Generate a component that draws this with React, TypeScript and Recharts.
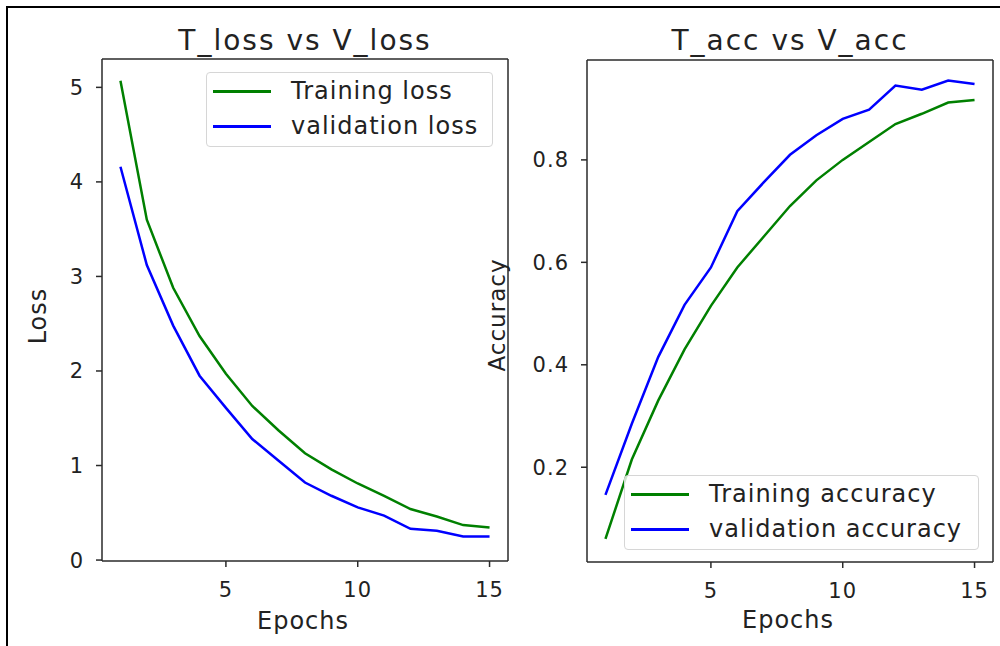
import React from 'react';
import { LineChart, Line, XAxis, YAxis, Legend } from 'recharts';

const epochs = [1, 2, 3, 4, 5, 6, 7, 8, 9, 10, 11, 12, 13, 14, 15];
const trainLoss = [5.07, 3.6, 2.88, 2.37, 1.97, 1.63, 1.37, 1.13, 0.96, 0.81, 0.68, 0.54, 0.46, 0.37, 0.345];
const valLoss = [4.16, 3.12, 2.48, 1.95, 1.61, 1.28, 1.05, 0.82, 0.68, 0.557, 0.47, 0.33, 0.31, 0.25, 0.25];
const trainAcc = [0.06, 0.215, 0.33, 0.43, 0.515, 0.59, 0.65, 0.71, 0.76, 0.8, 0.835, 0.87, 0.89, 0.912, 0.917];
const valAcc = [0.146, 0.285, 0.415, 0.517, 0.59, 0.7, 0.756, 0.81, 0.848, 0.88, 0.898, 0.945, 0.937, 0.955, 0.948];

const epochTicks = [5, 10, 15];
const lossTicks = [0, 1, 2, 3, 4, 5];
const accTicks = [0.2, 0.4, 0.6, 0.8];

const FONT = '"DejaVu Sans", sans-serif';
const INK = '#222';
const SPINE = '#2a2a2a';

const lossData = epochs.map((e, i) => ({ epoch: e, train: trainLoss[i], val: valLoss[i] }));
const accData = epochs.map((e, i) => ({ epoch: e, train: trainAcc[i], val: valAcc[i] }));

const tickStyle = { fill: INK, fontSize: 21, fontFamily: FONT, letterSpacing: 1 };

interface LegendBoxProps {
  labels: string[];
  width: number;
}

function LegendBox({ labels, width }: LegendBoxProps) {
  const colors = ['#008000', '#0000ff'];
  return (
    <div
      style={{
        position: 'relative',
        width,
        height: 75,
        border: '1.5px solid #d6d6d6',
        borderRadius: 4,
        background: 'rgba(255,255,255,0.8)',
        boxSizing: 'border-box',
        fontFamily: FONT,
      }}
    >
      {labels.map((lab, i) => (
        <div key={lab}>
          <div
            style={{
              position: 'absolute',
              left: 6,
              top: 17 + i * 35,
              width: 58,
              height: 3,
              background: colors[i],
            }}
          />
          <div
            style={{
              position: 'absolute',
              left: 84,
              top: 3 + i * 35,
              fontSize: 24,
              letterSpacing: 1,
              color: INK,
              whiteSpace: 'nowrap',
              lineHeight: '30px',
            }}
          >
            {lab}
          </div>
        </div>
      ))}
    </div>
  );
}

function Title({ text, x, y }: { text: string; x: number; y: number }) {
  return (
    <div
      style={{
        position: 'absolute',
        left: x - 200,
        width: 400,
        top: y,
        textAlign: 'center',
        fontFamily: FONT,
        fontSize: 28,
        letterSpacing: 2,
        color: INK,
        lineHeight: '30px',
      }}
    >
      {text}
    </div>
  );
}

function AxisLabel({ text, x, y, rotate, size }: { text: string; x: number; y: number; rotate?: boolean; size: number }) {
  return (
    <div
      style={{
        position: 'absolute',
        left: x - 100,
        top: y - 15,
        width: 200,
        height: 30,
        lineHeight: '30px',
        textAlign: 'center',
        fontFamily: FONT,
        fontSize: size,
        letterSpacing: 1,
        color: INK,
        transform: rotate ? 'rotate(-90deg)' : undefined,
      }}
    >
      {text}
    </div>
  );
}

export default function App() {
  return (
    <div
      style={{
        position: 'absolute',
        left: 0,
        top: 0,
        width: 1000,
        height: 646,
        background: '#fff',
        overflow: 'hidden',
      }}
    >
      {/* outer frame of the screenshot */}
      <div
        style={{
          position: 'absolute',
          left: 6,
          top: 6,
          width: 1010,
          height: 660,
          borderTop: '2.5px solid #000',
          borderLeft: '2.5px solid #000',
        }}
      />

      <div style={{ position: 'absolute', left: 0, top: 0 }}>
        <LineChart width={520} height={646} data={lossData} margin={{ top: 58, right: 11, left: 42, bottom: 55 }}>
          <XAxis
            dataKey="epoch"
            type="number"
            domain={[0.3, 15.7]}
            ticks={epochTicks}
            allowDataOverflow
            height={30}
            tickSize={6}
            tickMargin={15}
            tick={tickStyle}
            stroke={SPINE}
            strokeWidth={1.5}
          />
          <XAxis xAxisId="top" dataKey="epoch" type="number" orientation="top" domain={[0.3, 15.7]} ticks={epochTicks} height={1} tick={false} tickLine={false} stroke={SPINE} strokeWidth={1.5} />
          <YAxis
            type="number"
            domain={[-0.01, 5.3]}
            ticks={lossTicks}
            allowDataOverflow
            width={60}
            tickSize={6}
            tickMargin={12}
            tick={tickStyle}
            stroke={SPINE}
            strokeWidth={1.5}
          />
          <YAxis yAxisId="right" orientation="right" type="number" domain={[-0.01, 5.3]} ticks={lossTicks} width={1} tick={false} tickLine={false} stroke={SPINE} strokeWidth={1.5} />
          <Line dataKey="train" stroke="#008000" strokeWidth={2.5} dot={false} isAnimationActive={false} />
          <Line dataKey="val" stroke="#0000ff" strokeWidth={2.5} dot={false} isAnimationActive={false} />
          <Line xAxisId="top" yAxisId="right" dataKey="val" stroke="none" dot={false} legendType="none" isAnimationActive={false} />
          <Legend
            layout="horizontal"
            verticalAlign="middle"
            align="center"
            wrapperStyle={{ left: 206, top: 72, width: 287, height: 75 }}
            content={() => <LegendBox labels={['Training loss', 'validation loss']} width={287} />}
          />
        </LineChart>
      </div>

      <div style={{ position: 'absolute', left: 470, top: 0 }}>
        <LineChart width={530} height={646} data={accData} margin={{ top: 59, right: 6, left: 57, bottom: 54 }}>
          <XAxis
            dataKey="epoch"
            type="number"
            domain={[0.3, 15.7]}
            ticks={epochTicks}
            allowDataOverflow
            height={30}
            tickSize={6}
            tickMargin={15}
            tick={tickStyle}
            stroke={SPINE}
            strokeWidth={1.5}
          />
          <XAxis xAxisId="top" dataKey="epoch" type="number" orientation="top" domain={[0.3, 15.7]} ticks={epochTicks} height={1} tick={false} tickLine={false} stroke={SPINE} strokeWidth={1.5} />
          <YAxis
            type="number"
            domain={[0.015, 0.995]}
            ticks={accTicks}
            allowDataOverflow
            width={60}
            tickSize={6}
            tickMargin={12}
            tick={tickStyle}
            tickFormatter={(v: number) => v.toFixed(1)}
            stroke={SPINE}
            strokeWidth={1.5}
          />
          <YAxis yAxisId="right" orientation="right" type="number" domain={[0.015, 0.995]} ticks={accTicks} width={1} tick={false} tickLine={false} stroke={SPINE} strokeWidth={1.5} />
          <Line dataKey="train" stroke="#008000" strokeWidth={2.5} dot={false} isAnimationActive={false} />
          <Line dataKey="val" stroke="#0000ff" strokeWidth={2.5} dot={false} isAnimationActive={false} />
          <Line xAxisId="top" yAxisId="right" dataKey="val" stroke="none" dot={false} legendType="none" isAnimationActive={false} />
          <Legend
            layout="horizontal"
            verticalAlign="middle"
            align="center"
            wrapperStyle={{ left: 154, top: 475, width: 355, height: 75 }}
            content={() => <LegendBox labels={['Training accuracy', 'validation accuracy']} width={355} />}
          />
        </LineChart>
      </div>

      <Title text="T_loss vs V_loss" x={305} y={26} />
      <Title text="T_acc vs V_acc" x={790} y={26} />
      <AxisLabel text="Epochs" x={303} y={621} size={24} />
      <AxisLabel text="Epochs" x={788} y={620} size={24} />
      <AxisLabel text="Loss" x={38} y={316} size={24} rotate />
      <AxisLabel text="Accuracy" x={497} y={315} size={23} rotate />
    </div>
  );
}
